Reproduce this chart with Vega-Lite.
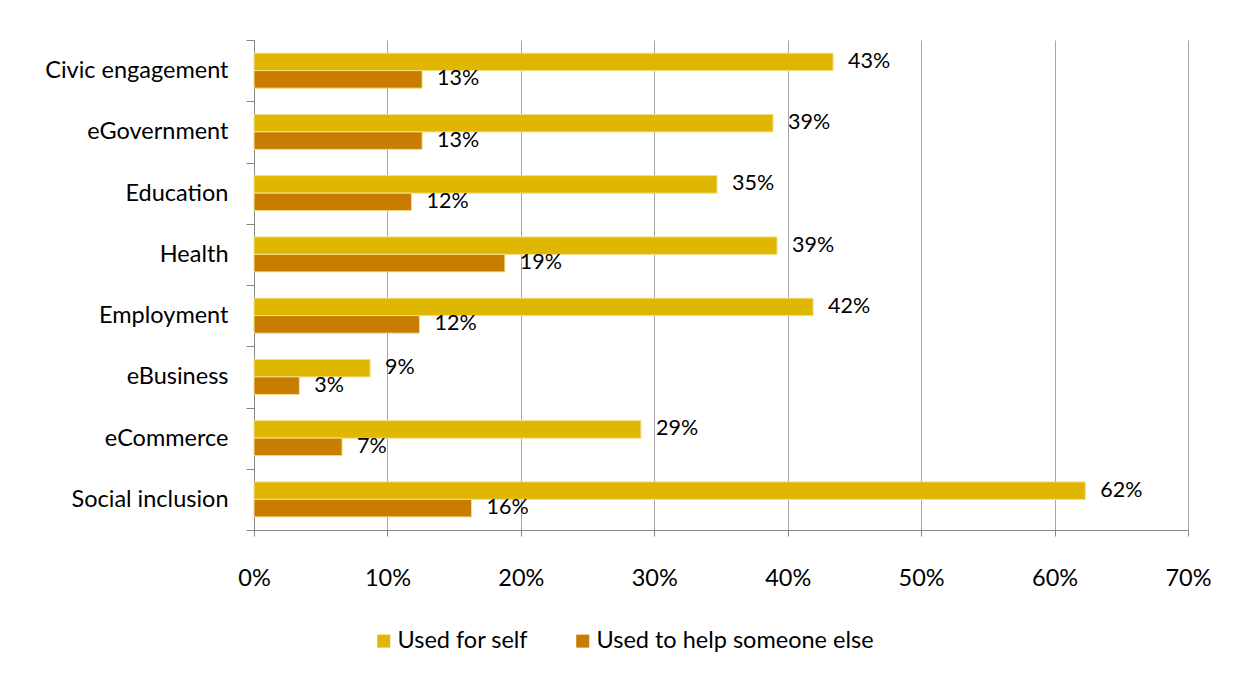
{
  "$schema": "https://vega.github.io/schema/vega-lite/v6.json",
  "width": 934,
  "height": 490,
  "autosize": {"type": "none"},
  "padding": {"left": 254, "top": 40, "right": 53, "bottom": 147},
  "background": "white",
  "config": {
    "font": "Lato",
    "view": {"stroke": null},
    "axis": {"labelFont": "Lato", "labelFontSize": 23.5, "labelColor": "#000000", "domainColor": "#868686", "tickColor": "#868686", "gridColor": "#A6A6A6", "domainWidth": 1, "tickWidth": 1, "gridWidth": 1, "title": null, "labelLimit": 0}
  },
  "data": {
    "values": [
      {"category": "Civic engagement", "series": "Used for self", "value": 0.434},
      {"category": "Civic engagement", "series": "Used to help someone else", "value": 0.126},
      {"category": "eGovernment", "series": "Used for self", "value": 0.389},
      {"category": "eGovernment", "series": "Used to help someone else", "value": 0.126},
      {"category": "Education", "series": "Used for self", "value": 0.347},
      {"category": "Education", "series": "Used to help someone else", "value": 0.118},
      {"category": "Health", "series": "Used for self", "value": 0.392},
      {"category": "Health", "series": "Used to help someone else", "value": 0.188},
      {"category": "Employment", "series": "Used for self", "value": 0.419},
      {"category": "Employment", "series": "Used to help someone else", "value": 0.124},
      {"category": "eBusiness", "series": "Used for self", "value": 0.087},
      {"category": "eBusiness", "series": "Used to help someone else", "value": 0.034},
      {"category": "eCommerce", "series": "Used for self", "value": 0.29},
      {"category": "eCommerce", "series": "Used to help someone else", "value": 0.066},
      {"category": "Social inclusion", "series": "Used for self", "value": 0.623},
      {"category": "Social inclusion", "series": "Used to help someone else", "value": 0.163}
    ]
  },
  "encoding": {
    "y": {
      "field": "category", "type": "nominal", "sort": null,
      "scale": {"paddingInner": 0, "paddingOuter": 0},
      "axis": {"tickBand": "extent", "tickSize": 8, "labelPadding": 18, "labelLimit": 0, "grid": false, "domain": true}
    },
    "x": {
      "field": "value", "type": "quantitative",
      "scale": {"domain": [0, 0.7], "nice": false},
      "axis": {"format": ".0%", "values": [0, 0.1, 0.2, 0.3, 0.4, 0.5, 0.6, 0.7], "tickSize": 6, "labelPadding": 30, "labelFlush": false, "grid": true}
    },
    "yOffset": {"field": "series", "type": "nominal", "sort": ["Used for self", "Used to help someone else"], "scale": {"paddingInner": 0, "paddingOuter": 0.75}}
  },
  "layer": [
    {
      "mark": {"type": "bar", "stroke": "#F2DE8A", "strokeWidth": 1},
      "encoding": {
        "color": {
          "field": "series", "type": "nominal",
          "sort": ["Used for self", "Used to help someone else"],
          "scale": {"domain": ["Used for self", "Used to help someone else"], "range": ["#E0B700", "#C87C00"]},
          "legend": {"title": null, "orient": "none", "direction": "horizontal", "legendX": 118, "legendY": 589, "padding": 0, "symbolType": "square", "symbolSize": 169, "symbolStrokeWidth": 0, "labelFont": "Lato", "labelFontSize": 23.5, "labelColor": "#000000", "labelLimit": 0, "columnPadding": 42, "labelOffset": 2}
        }
      }
    },
    {
      "mark": {"type": "text", "align": "left", "baseline": "middle", "dx": 15, "fontSize": 21.5, "font": "Lato", "color": "#000000"},
      "encoding": {"text": {"field": "value", "type": "quantitative", "format": ".0%"}}
    }
  ]
}
